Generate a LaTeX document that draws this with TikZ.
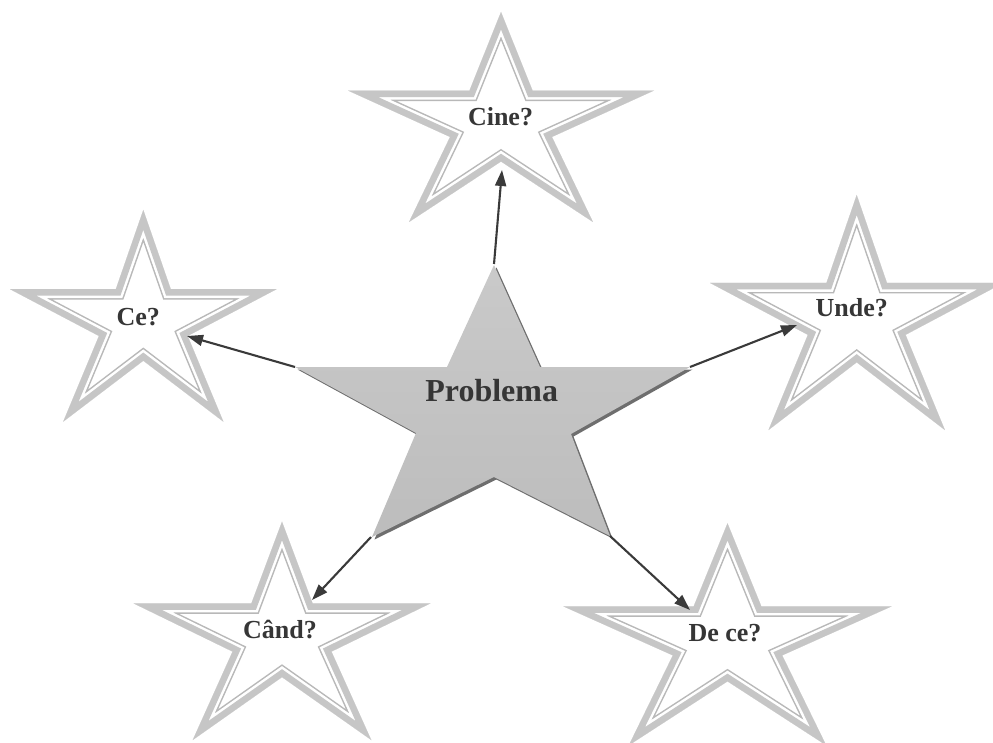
\documentclass[tikz,border=0pt]{standalone}
\usepackage{fontspec}
\setmainfont{Liberation Serif}
\usetikzlibrary{arrows.meta}
\definecolor{bandgray}{HTML}{C6C6C6}
\definecolor{thingray}{HTML}{B8B8B8}
\definecolor{txtgray}{HTML}{363636}
\definecolor{arrgray}{HTML}{3A3A3A}
\definecolor{shadowgray}{HTML}{6E6E6E}
\def\StarOuterPath{(0,0) -- (0.206,0.374) -- (1,0.374) -- (0.333,0.595) -- (0.601,1) -- (0,0.712) -- (-0.601,1) -- (-0.333,0.595) -- (-1,0.374) -- (-0.206,0.374) -- cycle}
\def\StarCentralPath{(494,265) -- (540,367) -- (690,367) -- (571,434) -- (610,536) -- (494,477) -- (372,537) -- (416,433) -- (295,367) -- (447,367) -- cycle}
\newcommand{\DrawOuterStar}[4]{%
  \begin{scope}[shift={(#1,#2)},xscale=#3,yscale=#4]
    \begin{scope}
      \clip \StarOuterPath;
      \fill[white] \StarOuterPath;
      \draw[thingray, line width=21pt, line join=miter] \StarOuterPath;
      \draw[white, line width=18pt, line join=miter] \StarOuterPath;
      \draw[bandgray, line width=13pt, line join=miter] \StarOuterPath;
    \end{scope}
  \end{scope}}
\tikzset{
  lbl/.style={font=\fontsize{26}{30}\selectfont\bfseries, text=txtgray, inner sep=0pt, anchor=base},
  biglbl/.style={font=\fontsize{32}{36}\selectfont\bfseries, text=txtgray, inner sep=0pt, anchor=base},
  conn/.style={draw=arrgray, line width=2.1pt, -{Triangle[length=16pt,width=11pt]}}
}
\begin{document}
\begin{tikzpicture}[x=1pt,y=-1pt]
\useasboundingbox (0,0) rectangle (993,743);
% outer stars
\DrawOuterStar{501}{12}{153}{210}
\DrawOuterStar{143.3}{210}{133.3}{211.7}
\DrawOuterStar{856.7}{195}{146.7}{235}
\DrawOuterStar{282}{521.7}{148.5}{218.3}
\DrawOuterStar{727.5}{523.3}{164.2}{222}
% central star
\begin{scope}[shift={(2.5,2.5)}]
  \fill[shadowgray] \StarCentralPath;
\end{scope}
\shade[top color=black!21, bottom color=black!26] \StarCentralPath;
% connector coordinates
\coordinate (Ptop) at (494,264);
\coordinate (Pleft) at (295,367);
\coordinate (Pright) at (690,367);
\coordinate (Pbl) at (371,537);
\coordinate (Pbr) at (610,536);
\coordinate (cinein) at (502,170);
\coordinate (cein) at (187,336);
\coordinate (undein) at (797,325);
\coordinate (candin) at (312,600);
\coordinate (decein) at (690,610);
% labels
\node[biglbl] (problema) at (491.7,401.7) {Problema};
\node[lbl] (cine) at (500.5,126) {Cine?};
\node[lbl] (ce) at (138.3,326) {Ce?};
\node[lbl] (unde) at (851.7,316.7) {Unde?};
\node[lbl] (cand) at (280,638) {Când?};
\node[lbl] (dece) at (725,641) {De ce?};
% connectors
\draw[conn] (Ptop) -- (cinein);
\draw[conn] (Pleft) -- (cein);
\draw[conn] (Pright) -- (undein);
\draw[conn] (Pbl) -- (candin);
\draw[conn] (Pbr) -- (decein);
\end{tikzpicture}
\end{document}
